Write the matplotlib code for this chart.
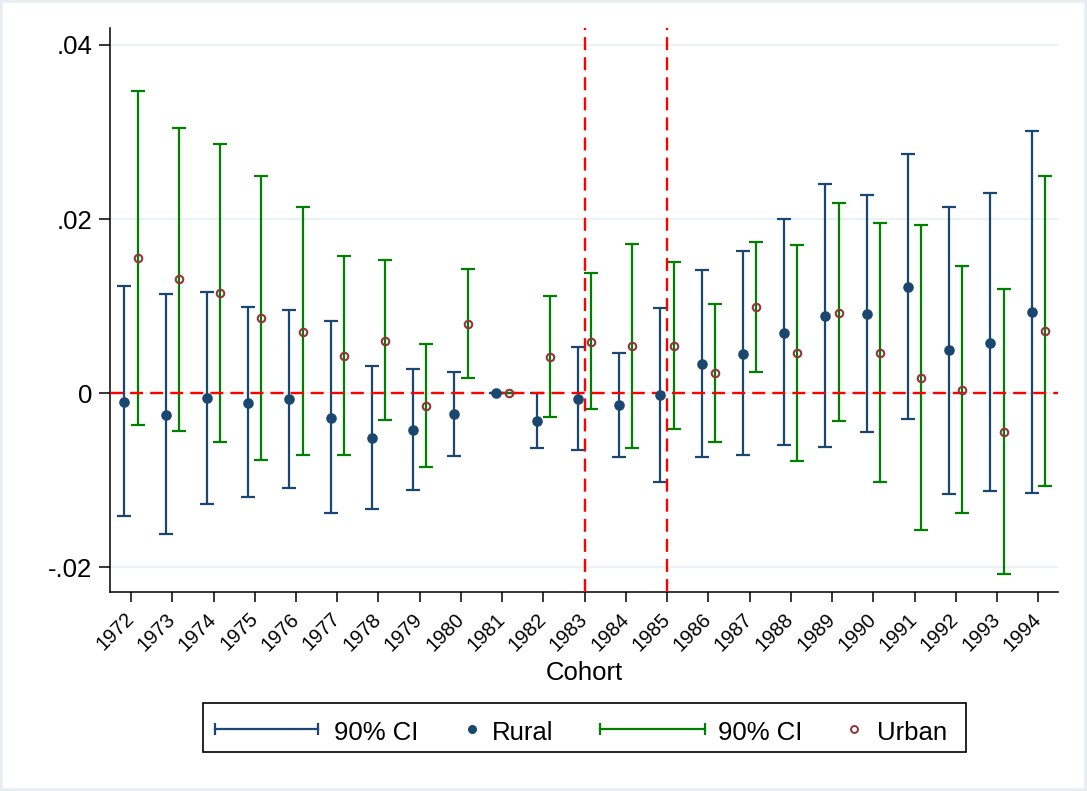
import numpy as np
import matplotlib
matplotlib.use("Agg")
import matplotlib.pyplot as plt
from matplotlib.lines import Line2D
from matplotlib.patches import Rectangle
from matplotlib.ticker import FuncFormatter

plt.rcParams['font.family'] = ['Liberation Sans', 'DejaVu Sans']

# ---------------- data ----------------
years = np.arange(1972, 1995)
tick_labels = [str(y) for y in years]

rural_coef = np.array([-0.00096, -0.00245, -0.00058, -0.00107, -0.00065, -0.0028, -0.00513,
                       -0.00418, -0.00241, 0.0, -0.00322, -0.00065, -0.00134, -0.0002,
                       0.0034, 0.00455, 0.00696, 0.00891, 0.00914, 0.01224, 0.00494,
                       0.00581, 0.0093])
rural_lo = np.array([-0.01405, -0.01619, -0.01271, -0.01194, -0.01083, -0.01374, -0.01328,
                     -0.01107, -0.0072, 0.0, -0.00624, -0.00647, -0.00728, -0.01022,
                     -0.00735, -0.00712, -0.00597, -0.0062, -0.00444, -0.00295, -0.01153,
                     -0.01122, -0.01148])
rural_hi = np.array([0.01228, 0.01136, 0.01163, 0.00991, 0.00956, 0.00827, 0.00313,
                     0.00276, 0.00241, 0.0, 0.0, 0.00532, 0.00463, 0.00983,
                     0.01416, 0.0163, 0.01998, 0.02407, 0.02277, 0.02747, 0.02139,
                     0.02296, 0.03011])

urban_coef = np.array([0.0155, 0.01309, 0.01148, 0.00868, 0.00707, 0.00432, 0.00606,
                       -0.00142, 0.00796, 0.0, 0.0042, 0.00593, 0.00543, 0.00547,
                       0.0023, 0.00991, 0.00459, 0.00925, 0.00466, 0.00179, 0.00041,
                       -0.00448, 0.00712])
urban_lo = np.array([-0.00368, -0.00429, -0.00559, -0.00762, -0.00712, -0.00708, -0.00308,
                     -0.00846, 0.00172, 0.0, -0.00272, -0.00184, -0.00624, -0.00406,
                     -0.00559, 0.00245, -0.00781, -0.00318, -0.01018, -0.01566, -0.01378,
                     -0.02078, -0.01061])
urban_hi = np.array([0.03474, 0.0305, 0.02862, 0.02498, 0.02139, 0.01576, 0.01536,
                     0.0057, 0.01424, 0.0, 0.01121, 0.01381, 0.01714, 0.01507,
                     0.01022, 0.0174, 0.01706, 0.02181, 0.01952, 0.01932, 0.01462,
                     0.01194, 0.02491])

event_lines = [1983, 1985]
yticks = [-0.02, 0.0, 0.02, 0.04]
legend_labels = ["90% CI", "Rural", "90% CI", "Urban"]

# ---------------- style ----------------
NAVY = '#1a476f'
MAROON = '#90353b'
GREEN = '#008000'
GRID = '#eaf2f3'
W, H = 1087, 791
offset = 0.16

fig = plt.figure(figsize=(W / 100, H / 100), dpi=100)
fig.patch.set_facecolor('white')
ax = fig.add_axes([110 / W, 1 - 591.7 / H, (1058 - 110) / W, (591.7 - 28.3) / H])

ax.errorbar(years - offset, rural_coef,
            yerr=[rural_coef - rural_lo, rural_hi - rural_coef],
            fmt='none', ecolor=NAVY, elinewidth=1.6, capsize=5.2, capthick=1.6, zorder=2)
ax.errorbar(years + offset, urban_coef,
            yerr=[urban_coef - urban_lo, urban_hi - urban_coef],
            fmt='none', ecolor=GREEN, elinewidth=1.6, capsize=5.2, capthick=1.6, zorder=2)

ax.axhline(0, color='red', lw=1.7, dashes=(5.5, 3), zorder=3)
for xl in event_lines:
    ax.axvline(xl, color='red', lw=1.7, dashes=(5.5, 3), zorder=3)

ax.plot(years - offset, rural_coef, 'o', color=NAVY, ms=6.6, zorder=5)
ax.plot(years + offset, urban_coef, 'o', mfc='none', mec=MAROON, mew=1.5, ms=5.4, zorder=5)

ax.set_xlim(1971.49, 1994.48)
ax.set_ylim(-0.02278, 0.04191)
ax.set_yticks(yticks)
ax.yaxis.set_major_formatter(FuncFormatter(
    lambda v, p: '0' if abs(v) < 1e-12 else ('%.2f' % v).replace('0.', '.')))
ax.set_xticks(years)
ax.set_xticklabels(tick_labels, rotation=45, ha='right', va='center', rotation_mode='anchor')

ax.grid(axis='y', color=GRID, lw=1.6)
ax.set_axisbelow(True)
for s in ['top', 'right']:
    ax.spines[s].set_visible(False)
for s in ['left', 'bottom']:
    ax.spines[s].set_linewidth(1.1)
ax.tick_params(axis='y', length=7.7, width=1.1, labelsize=18.5, pad=5)
ax.tick_params(axis='x', length=7.5, width=1.1, labelsize=14.5, pad=10)

ax.set_xlabel('Cohort', fontsize=18.5)
ax.xaxis.label.set_va('center')
ax.xaxis.set_label_coords(0.5, (591.7 - 673) / (591.7 - 28.3))

# ---------------- legend (manual, Stata-style) ----------------
def fx(x):
    return x / W

def fy(y):
    return 1 - y / H

fig.add_artist(Rectangle((fx(203), fy(752)), fx(966) - fx(203), fy(703) - fy(752),
                         transform=fig.transFigure, fill=False, edgecolor='black', lw=1.2))
ly = fy(729)
base = fy(739.5)
fig.add_artist(Line2D([fx(215), fx(318)], [ly, ly], color=NAVY, lw=1.6,
                      marker='|', ms=9, mew=1.6, transform=fig.transFigure))
fig.text(fx(334), base, legend_labels[0], fontsize=18.5, va='baseline', ha='left')
fig.add_artist(Line2D([fx(472)], [ly], color=NAVY, marker='o', ms=5.5, lw=0,
                      transform=fig.transFigure))
fig.text(fx(492), base, legend_labels[1], fontsize=18.5, va='baseline', ha='left')
fig.add_artist(Line2D([fx(600), fx(705)], [ly, ly], color=GREEN, lw=1.6,
                      marker='|', ms=9, mew=1.6, transform=fig.transFigure))
fig.text(fx(718), base, legend_labels[2], fontsize=18.5, va='baseline', ha='left')
fig.add_artist(Line2D([fx(854)], [ly], marker='o', mfc='none', mec=MAROON, mew=1.4,
                      ms=5, lw=0, transform=fig.transFigure))
fig.text(fx(877), base, legend_labels[3], fontsize=18.5, va='baseline', ha='left')

# outer light border
fig.add_artist(Rectangle((0, 0), 1, 1, transform=fig.transFigure, fill=False,
                         edgecolor='#e6eef1', lw=4))

fig.savefig('out.png', dpi=100)
